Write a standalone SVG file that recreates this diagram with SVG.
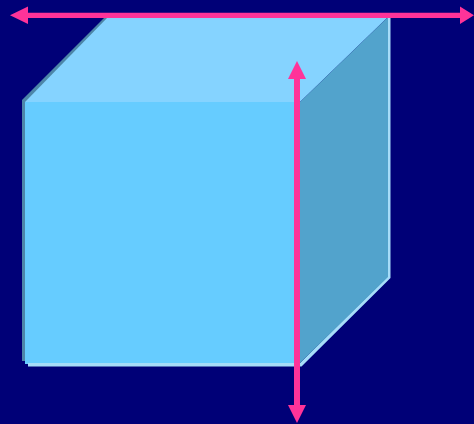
<svg xmlns="http://www.w3.org/2000/svg" width="474" height="424" viewBox="0 0 474 424">
<style>
.arrow{fill:#ff3399}
.dark{fill:#4d86a8}
.light{fill:#a6dcf8}
</style>
<rect id="background" width="474" height="424" fill="#000077"/>
<g id="cube">
<polygon class="dark" points="22,100 105,17 110,17 25,103 25,361 22,361"/>
<polygon class="light" points="388,15 390.500,15 390.500,278 301.500,366.500 28,366.500 28,363 300,363 388,276"/>
<polygon points="25,102 108,17 388,17 300,102" fill="#85d3ff"/>
<polygon points="300,102 388,17 388,277 300,363" fill="#52a3cc"/>
<rect x="25" y="102" width="275" height="261" fill="#66ccff"/>
<rect x="25" y="361" width="3" height="3" fill="#66ccff"/>
</g>
<g id="connectors">
<polygon id="axis-horizontal" class="arrow" points="10,15.300 28,6.500 28,12.700 460,12.700 460,6.500 474,15.300 460,24 460,18 28,18 28,24"/>
<polygon id="axis-vertical" class="arrow" points="297,61 306,79 300,79 300,405 306,405 297,423 288,405 294,405 294,79 288,79"/>
</g>
</svg>
